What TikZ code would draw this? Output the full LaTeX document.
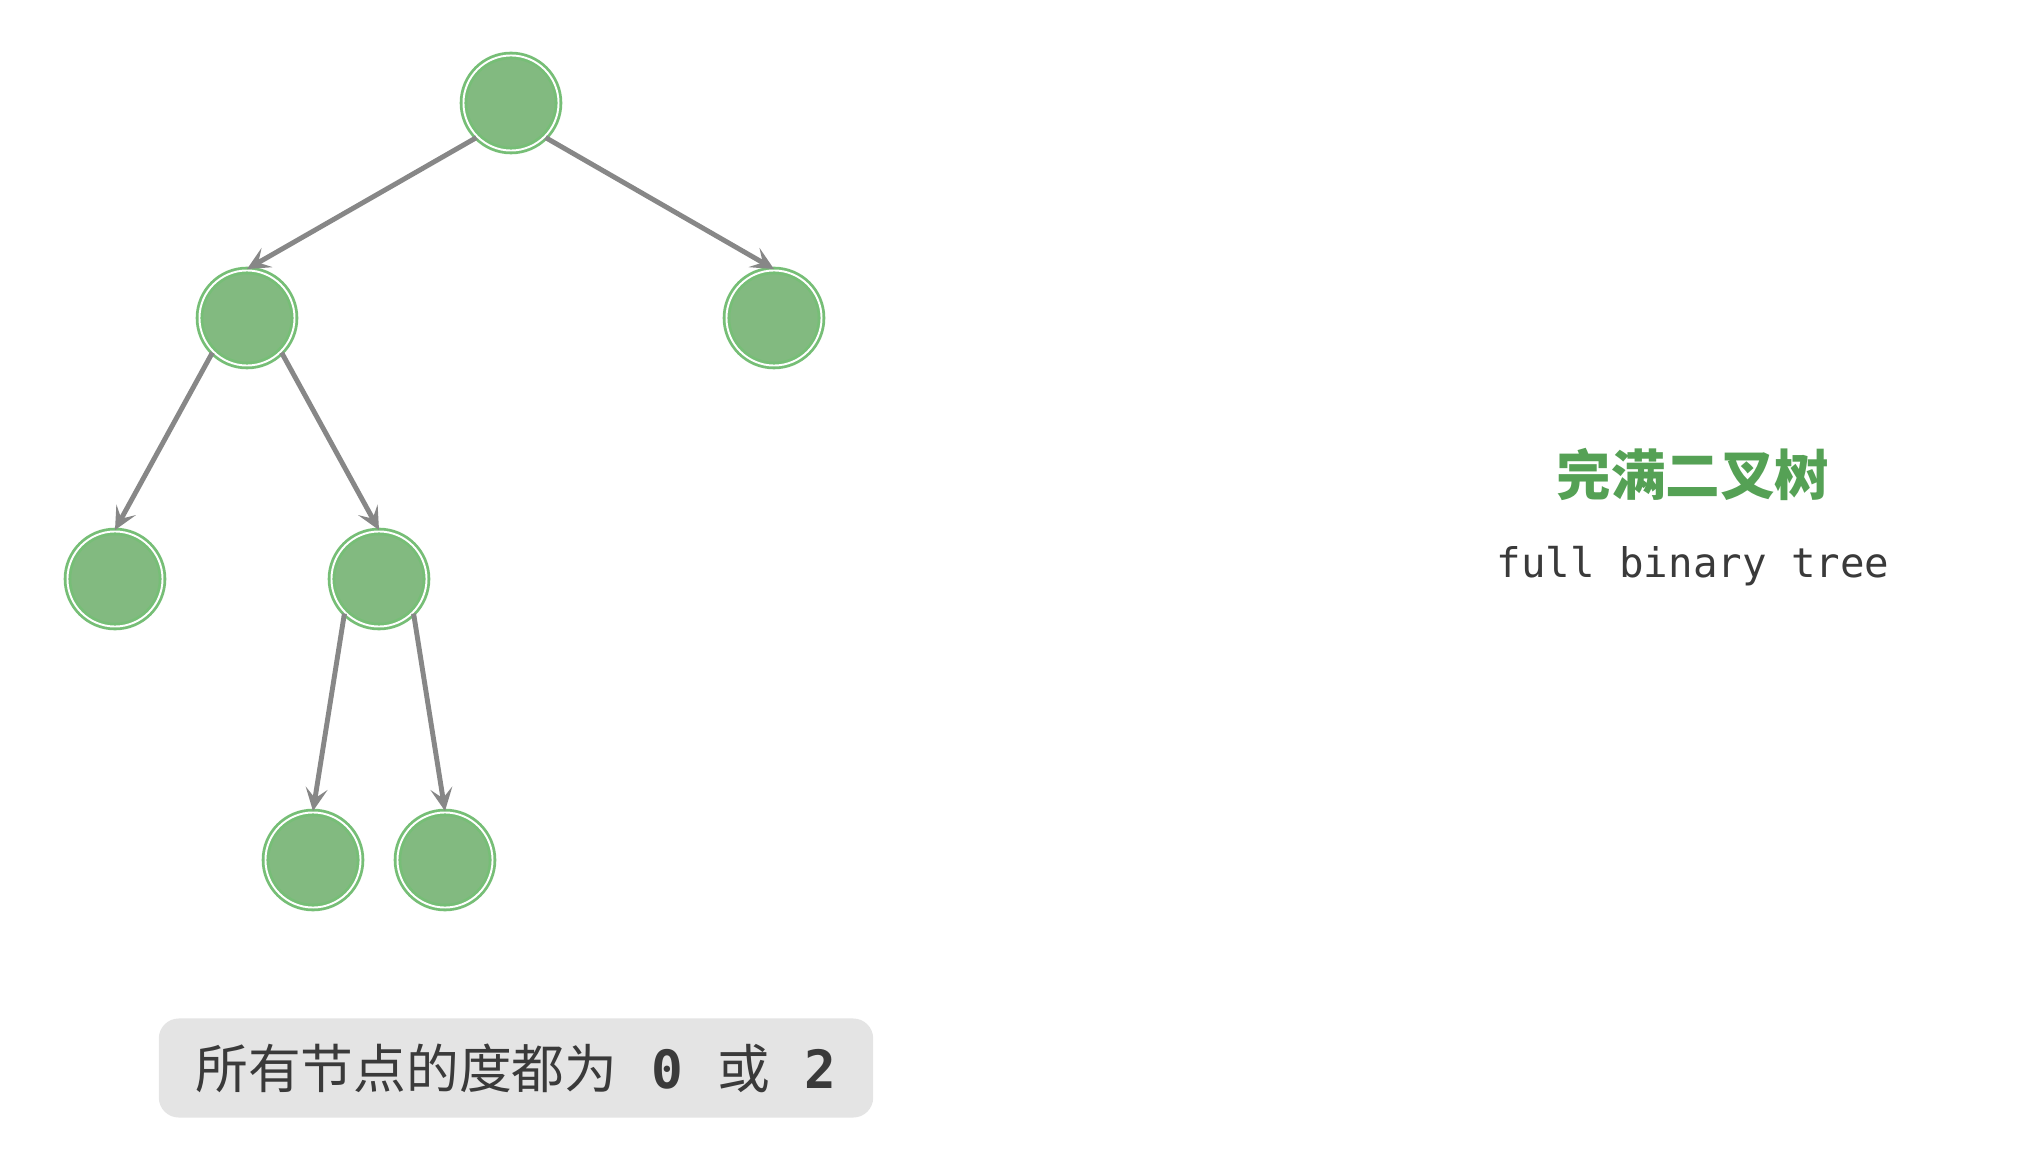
\documentclass[tikz,border=0pt]{standalone}
\usepackage{fontspec}
\setmainfont{Noto Sans CJK SC}
\setmonofont{DejaVu Sans Mono}
\newfontfamily\cjk{Noto Sans CJK SC}
\usetikzlibrary{arrows.meta}
\definecolor{nodefill}{HTML}{82BA80}
\definecolor{nodering}{HTML}{76BE76}
\definecolor{titlegreen}{HTML}{55A155}
\definecolor{edgegray}{HTML}{878787}
\definecolor{textgray}{HTML}{3A3A3A}
\definecolor{boxgray}{HTML}{E4E4E4}

\begin{document}
\begin{tikzpicture}[
    x=0.01cm, y=-0.01cm,
    >={Stealth[length=2.3mm,width=2.2mm,inset=1mm]},
    treenode/.style={circle, fill=nodefill, draw=nodering, double=white,
        line width=0.8pt, double distance=0.55pt, minimum size=0.95cm, inner sep=0pt},
    treeedge/.style={->, draw=edgegray, line width=1.4pt},
]
\useasboundingbox (0,0) rectangle (2027,1167);
% the tree: every inner node has two children
\node[treenode] (root) at (511,103) {};
\node[treenode] (l)    at (247,318) {};
\node[treenode] (r)    at (774,318) {};
\node[treenode] (ll)   at (115,579) {};
\node[treenode] (lr)   at (379,579) {};
\node[treenode] (lrl)  at (313,860) {};
\node[treenode] (lrr)  at (445,860) {};
\foreach \a/\s/\b in {root/south west/l, root/south east/r, l/south west/ll,
                      l/south east/lr, lr/south west/lrl, lr/south east/lrr}
    \draw[treeedge] (\a.\s) -- (\b.north);
% caption on the right
\node[font=\cjk\bfseries\fontsize{15.5}{18}\selectfont, text=titlegreen] (title) at (1693,474) {完满二叉树};
\node[font=\ttfamily\fontsize{11.6}{14}\selectfont, text=textgray] (subtitle) at (1693,566) {full binary tree};
% note under the tree
\node[rounded corners=0.2cm, fill=boxgray, minimum width=7.14cm, minimum height=0.99cm,
      font=\cjk\fontsize{15}{18}\selectfont, text=textgray] (note) at (516,1068)
    {所有节点的度都为\hspace{0.65em}{\ttfamily\bfseries 0}\hspace{0.65em}或\hspace{0.65em}{\ttfamily\bfseries 2}};
\end{tikzpicture}
\end{document}
